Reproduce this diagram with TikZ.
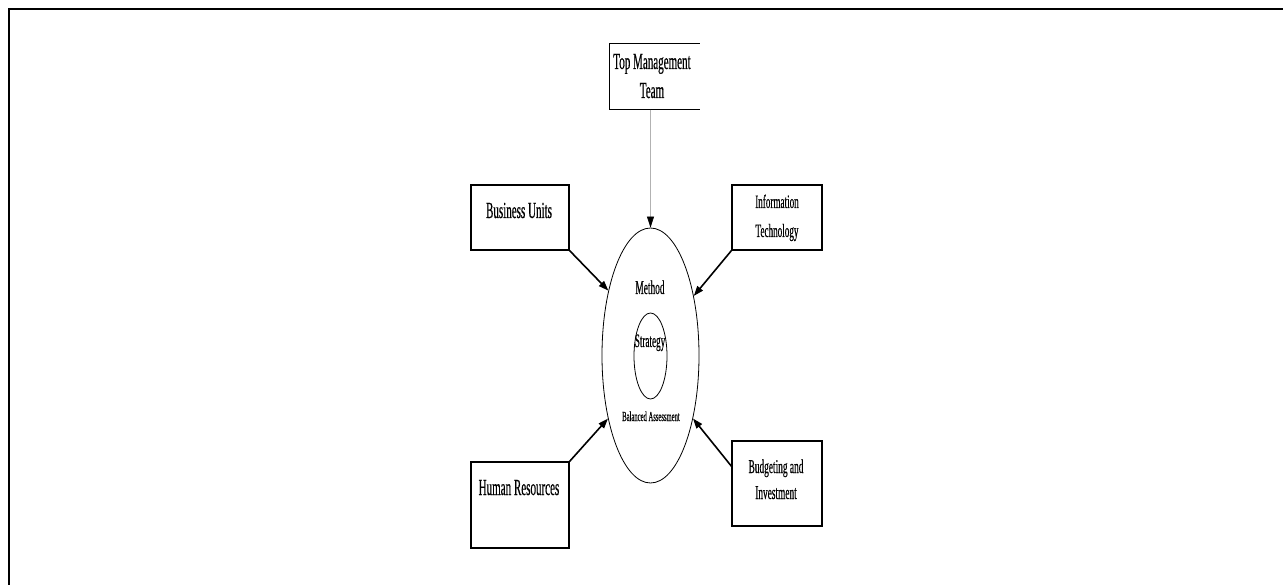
\documentclass[tikz,border=0pt]{standalone}
\usepackage{fontspec}
\setmainfont{Liberation Serif}
\newfontfamily\condfont[FakeStretch=0.48,FakeBold=0.4]{Liberation Serif}
\usetikzlibrary{arrows.meta,calc,shapes.geometric}
\begin{document}
\begin{tikzpicture}[x=1pt,y=-1pt,
  box/.style={rectangle,draw=black,line width=1.1pt,inner sep=0pt},
  lbl/.style={anchor=base,inner sep=0pt,text=black},
  big/.style={font=\condfont\fontsize{23}{26}\selectfont},
  mid/.style={font=\condfont\fontsize{19.5}{22}\selectfont},
  sml/.style={font=\condfont\fontsize{19}{22}\selectfont},
  arr/.style={line width=1.6pt,-{Triangle[length=10pt,width=7pt]}},
]
\useasboundingbox (0,0) rectangle (1283,585);
\draw[line width=2pt] (9,585) -- (9,9) -- (1283,9);

% boxes
\node[box,minimum width=89pt,minimum height=65pt,draw=none] (tm) at (654.5,76.5) {};
\draw[line width=1.1pt] (tm.north east) -- (tm.north west) -- (tm.south west) -- (tm.south east);
\node[box,minimum width=98pt,minimum height=65pt] (bu) at (520,217.5) {};
\node[box,minimum width=90pt,minimum height=65pt] (it) at (777,217.5) {};
\node[box,minimum width=98pt,minimum height=86pt] (hr) at (520,505) {};
\node[box,minimum width=90pt,minimum height=85pt] (bi) at (777,483.5) {};

% ellipses
\node[ellipse,draw,line width=0.8pt,minimum width=97pt,minimum height=255pt,inner sep=0pt] (outer) at (650.5,355.5) {};
\node[ellipse,draw,line width=0.8pt,minimum width=33pt,minimum height=86pt,inner sep=0pt] (inner) at (650.5,356) {};

% labels
\node[lbl,big] (tm1) at (652,69) {Top Management};
\node[lbl,big] (tm2) at (652,98) {Team};
\node[lbl,big] (bul) at (519,218) {Business Units};
\node[lbl,sml] (it1) at (777,208) {Information};
\node[lbl,sml] (it2) at (777,237) {Technology};
\node[lbl,mid] (meth) at (650,294) {Method};
\node[lbl,sml] (strat) at (650,347) {Strategy};
\node[lbl,font=\condfont\fontsize{13.8}{16}\selectfont] (bal) at (651,421) {Balanced Assessment};
\node[lbl,big] (hrl) at (519,495) {Human Resources};
\node[lbl,mid] (bi1) at (776,473) {Budgeting and};
\node[lbl,mid] (bi2) at (776,499) {Investment};

% connectors
\draw[line width=0.6pt,draw=gray!60,-{Triangle[length=11pt,width=7pt,color=black]}] (tm.south -| outer.north) -- (outer.north);
\draw[arr] (bu.south east) -- (outer.123.6);
\draw[arr] (it.south west) -- (outer.54.5);
\draw[arr] (hr.north east) -- (outer.236.6);
\draw[arr] ($(bi.north west)!0.3!(bi.south west)$) -- (outer.304.6);
\end{tikzpicture}
\end{document}
